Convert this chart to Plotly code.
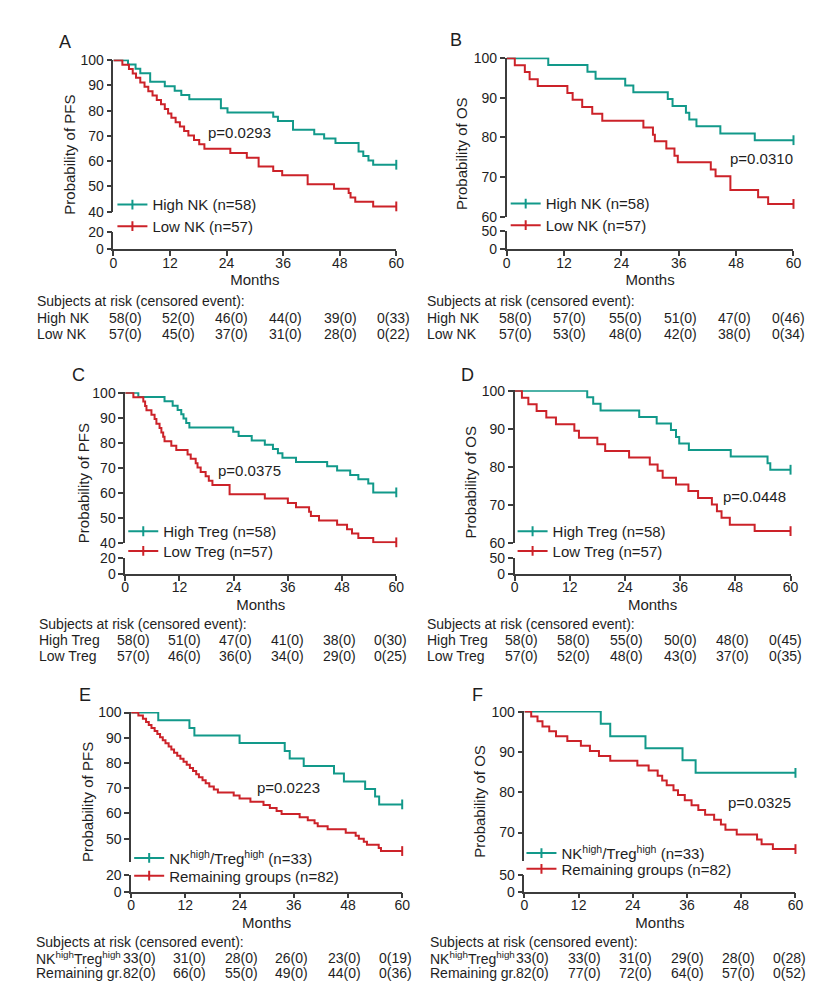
import plotly.graph_objects as go

W, H = 835, 1003
GREEN = '#12998a'
RED = '#cc2229'
AXIS = '#3c3c3c'
TXT = '#1e1e1e'
FONT = 'Liberation Sans, Arial, sans-serif'

MONTH_TICKS = [0, 12, 24, 36, 48, 60]

# ---------------- data ----------------
# A: PFS by NK
A_high_t = [0, 3.1, 4.7, 5.7, 7.8, 10.9, 13.0, 14.4, 16.1, 22.8, 24.2, 33.9, 34.9, 38.1, 42.6, 44.7, 47.1, 52.0, 53.0, 54.1, 55.1, 60]
A_high_s = [100, 98.3, 96.6, 94.8, 91.4, 89.7, 87.9, 86.2, 84.5, 81.0, 79.3, 77.6, 75.9, 72.4, 70.7, 69.0, 67.2, 63.8, 62.1, 60.3, 58.6, 58.6]
A_low_t = [0, 1.9, 3.3, 4.1, 4.8, 5.7, 6.6, 7.4, 8.3, 9.2, 10.1, 10.9, 11.6, 12.3, 13.2, 14.1, 15.0, 15.9, 17.1, 18.2, 19.3,
           24.8, 28.3, 30.8, 33.9, 35.8, 41.2, 46.8, 49.9, 50.3, 51.3, 55.1, 60]
A_low_s = [100, 98.2, 96.5, 94.7, 93.0, 91.2, 89.5, 87.7, 86.0, 84.2, 82.5, 80.7, 78.9, 77.2, 75.4, 73.7, 71.9, 70.2, 68.4, 66.7, 64.9,
           63.2, 61.4, 57.9, 56.1, 54.4, 50.9, 49.1, 47.4, 45.6, 43.9, 42.1, 42.1]

# B: OS by NK
B_high_t = [0, 8.7, 16.9, 18.6, 24.8, 26.5, 33.7, 34.7, 37.5, 38.2, 39.7, 44.7, 51.9, 60]
B_high_s = [100, 98.3, 96.6, 94.8, 93.1, 91.4, 89.7, 87.9, 86.2, 84.5, 82.8, 81.0, 79.3, 79.3]
B_low_t = [0, 1.7, 3.8, 4.8, 6.5, 12.7, 13.8, 15.8, 17.9, 20.0, 28.6, 30.6, 31.0, 33.4, 35.1, 35.8, 42.7, 43.7, 46.8, 52.6, 54.7, 60]
B_low_s = [100, 98.2, 96.5, 94.7, 93.0, 91.2, 89.5, 87.7, 86.0, 84.2, 82.5, 80.7, 79.0, 77.2, 75.4, 73.7, 71.9, 70.2, 66.7, 64.9, 63.2, 63.2]

# C: PFS by Treg
C_high_t = [0, 2.9, 8.7, 10.5, 11.6, 12.4, 12.9, 13.5, 14.2, 23.9, 25.1, 28.0, 30.9, 32.7, 33.8, 34.8, 37.8, 44.7, 46.9, 49.8, 51.6, 53.8, 54.9, 60]
C_high_s = [100, 98.3, 96.6, 94.8, 93.1, 91.4, 89.7, 87.9, 86.2, 84.5, 82.8, 81.0, 79.3, 77.6, 75.9, 74.1, 72.4, 70.7, 69.0, 67.2, 65.5, 63.8, 60.3, 60.3]
C_low_t = [0, 1.8, 4.0, 4.4, 4.7, 5.8, 6.5, 6.9, 7.6, 8.0, 8.4, 8.7, 10.2, 11.3, 13.8, 14.5, 15.6, 16.0, 16.7, 17.8, 18.5, 19.3,
           23.1, 30.9, 36.0, 37.8, 40.7, 41.1, 42.9, 46.9, 49.1, 50.2, 51.6, 54.9, 60]
C_low_s = [100, 98.2, 96.5, 94.7, 93.0, 91.2, 89.5, 87.7, 86.0, 84.2, 82.5, 80.7, 78.9, 77.2, 75.4, 73.7, 71.9, 70.2, 68.4, 66.7, 64.9, 63.2,
           59.6, 57.9, 56.1, 54.4, 52.6, 50.9, 49.1, 47.4, 45.6, 43.9, 42.1, 40.4, 40.4]

# D: OS by Treg
D_high_t = [0, 15.8, 17.1, 18.7, 27.1, 30.9, 34.0, 35.1, 35.8, 37.9, 47.0, 55.0, 55.6, 60]
D_high_s = [100, 98.3, 96.6, 94.8, 93.1, 91.4, 89.7, 87.9, 86.2, 84.5, 82.8, 81.0, 79.3, 79.3]
D_low_t = [0, 1.6, 3.0, 4.8, 6.9, 9.0, 13.0, 14.0, 18.0, 19.7, 24.9, 29.4, 31.1, 32.2, 35.1, 37.8, 39.9, 42.9, 44.0, 45.0, 46.8, 52.2, 60]
D_low_s = [100, 98.2, 96.5, 94.7, 93.0, 91.2, 89.5, 87.7, 86.0, 84.2, 82.5, 80.7, 79.0, 77.2, 75.4, 73.7, 71.9, 70.2, 68.4, 66.7, 64.9, 63.2, 63.2]

# E: PFS NKhigh/Treghigh vs remaining
E_high_t = [0, 6.0, 12.9, 14.0, 24.0, 34.0, 35.1, 38.2, 44.9, 47.1, 51.8, 54.0, 54.9, 60]
E_high_s = [100, 97.0, 93.9, 90.9, 87.9, 84.8, 81.8, 78.8, 75.8, 72.7, 69.7, 66.7, 63.6, 63.6]
E_low_t = [0, 1.6, 2.6, 3.3, 3.9, 4.5, 5.2, 5.8, 6.4, 7.0, 7.6, 8.3, 8.9, 9.5, 10.2, 10.9, 11.6, 12.3, 13.0, 13.7, 14.4, 15.0, 15.8,
           16.5, 17.3, 18.3, 19.2, 22.7, 24.0, 26.4, 29.3, 30.7, 32.2, 33.3, 37.3, 39.1, 40.6, 41.3, 43.5, 47.5, 49.7, 50.4,
           51.5, 52.2, 54.8, 55.3, 60]
E_low_s = [100, 98.8, 97.6, 96.3, 95.1, 93.9, 92.7, 91.5, 90.2, 89.0, 87.8, 86.6, 85.4, 84.1, 82.9, 81.7, 80.5, 79.3, 78.0, 76.8,
           75.6, 74.4, 73.2, 72.0, 70.7, 69.5, 68.3, 67.1, 65.9, 64.6, 63.4, 62.2, 61.0, 59.8, 58.5, 57.3, 56.1, 54.9, 53.7,
           52.4, 51.2, 50.0, 48.8, 47.6, 46.3, 45.1, 45.1]

# F: OS NKhigh/Treghigh vs remaining
F_high_t = [0, 16.9, 19.0, 26.8, 35.0, 37.9, 60]
F_high_s = [100, 97.0, 93.9, 90.9, 87.9, 84.8, 84.8]
F_low_t = [0, 1.5, 2.9, 4.0, 5.5, 7.0, 9.5, 12.5, 14.5, 16.5, 19.0, 25.0, 27.5, 29.5, 30.5, 31.5, 33.0, 34.0, 35.5, 37.0,
           38.5, 40.0, 42.0, 43.5, 44.5, 47.0, 51.5, 52.5, 55.0, 60]
F_low_s = [100, 98.8, 97.6, 96.3, 95.1, 93.9, 92.7, 91.5, 90.2, 89.0, 87.8, 86.6, 85.4, 84.1, 82.9, 81.7, 80.5, 79.3, 78.0,
           76.8, 75.6, 74.4, 73.2, 72.0, 70.7, 69.5, 68.3, 67.1, 65.9, 65.9]

# legends / labels
A_names = ['High NK (n=58)', 'Low NK (n=57)']
B_names = ['High NK (n=58)', 'Low NK (n=57)']
C_names = ['High Treg (n=58)', 'Low Treg (n=57)']
D_names = ['High Treg (n=58)', 'Low Treg (n=57)']
E_names = ['NK<sup>high</sup>/Treg<sup>high</sup> (n=33)', 'Remaining groups (n=82)']
F_names = ['NK<sup>high</sup>/Treg<sup>high</sup> (n=33)', 'Remaining groups (n=82)']

P_VALUES = ['p=0.0293', 'p=0.0310', 'p=0.0375', 'p=0.0448', 'p=0.0223', 'p=0.0325']
Y_TITLES = ['Probability of PFS', 'Probability of OS'] * 3
LETTERS = ['A', 'B', 'C', 'D', 'E', 'F']

RISK_HEADER = 'Subjects at risk (censored event):'
A_rows = ['High NK', 'Low NK']
A_risk = [['58(0)', '52(0)', '46(0)', '44(0)', '39(0)', '0(33)'],
          ['57(0)', '45(0)', '37(0)', '31(0)', '28(0)', '0(22)']]
B_rows = ['High NK', 'Low NK']
B_risk = [['58(0)', '57(0)', '55(0)', '51(0)', '47(0)', '0(46)'],
          ['57(0)', '53(0)', '48(0)', '42(0)', '38(0)', '0(34)']]
C_rows = ['High Treg', 'Low Treg']
C_risk = [['58(0)', '51(0)', '47(0)', '41(0)', '38(0)', '0(30)'],
          ['57(0)', '46(0)', '36(0)', '34(0)', '29(0)', '0(25)']]
D_rows = ['High Treg', 'Low Treg']
D_risk = [['58(0)', '58(0)', '55(0)', '50(0)', '48(0)', '0(45)'],
          ['57(0)', '52(0)', '48(0)', '43(0)', '37(0)', '0(35)']]
E_rows = ['NK<sup>high</sup>Treg<sup>high</sup>', 'Remaining gr.']
E_risk = [['33(0)', '31(0)', '28(0)', '26(0)', '23(0)', '0(19)'],
          ['82(0)', '66(0)', '55(0)', '49(0)', '44(0)', '0(36)']]
F_rows = ['NK<sup>high</sup>Treg<sup>high</sup>', 'Remaining gr.']
F_risk = [['33(0)', '33(0)', '31(0)', '29(0)', '28(0)', '0(28)'],
          ['82(0)', '77(0)', '72(0)', '64(0)', '57(0)', '0(52)']]

# ---------------- layout geometry (pixels) ----------------
geo = [
    dict(x=(111, 398), up=(53, 207), lo=(228, 245), ymin=40, uticks=[40, 50, 60, 70, 80, 90, 100], lmax=20,
         letter=(62, 35), p=(239, 127), ytit_x=67, leg_x=151, leg_y=(200, 222),
         tab=dict(lx=31, hy=298, ry=(315, 331), cols=[123, 177, 231, 286, 341, 395])),
    dict(x=(510, 801), up=(51, 212), lo=(227, 245), ymin=60, uticks=[60, 70, 80, 90, 100], lmax=50,
         letter=(459, 33), p=(769, 153), ytit_x=464, leg_x=550, leg_y=(199, 221),
         tab=dict(lx=427, hy=298, ry=(315, 331), cols=[519, 574, 631, 686, 741, 796])),
    dict(x=(123, 398), up=(391, 544), lo=(559, 575), ymin=40, uticks=[40, 50, 60, 70, 80, 90, 100], lmax=20,
         letter=(76, 373), p=(249, 470), ytit_x=80, leg_x=162, leg_y=(532, 552),
         tab=dict(lx=33, hy=626, ry=(642, 658), cols=[131, 183, 235, 288, 340, 392])),
    dict(x=(518, 798), up=(389, 544), lo=(559, 575), ymin=60, uticks=[60, 70, 80, 90, 100], lmax=50,
         letter=(470, 373), p=(761, 496), ytit_x=473, leg_x=557, leg_y=(532, 552),
         tab=dict(lx=427, hy=626, ry=(642, 658), cols=[525, 578, 632, 686, 739, 793])),
    dict(x=(129, 404), up=(716, 868), lo=(881, 898), ymin=40.7, uticks=[50, 60, 70, 80, 90, 100], lmax=20,
         letter=(82, 698), p=(289, 792), ytit_x=84, leg_x=168, leg_y=(864, 882),
         tab=dict(lx=30, hy=949, ry=(965, 981), cols=[137, 188, 241, 292, 345, 397])),
    dict(x=(528, 803), up=(715, 867), lo=(881, 898), ymin=62.9, uticks=[70, 80, 90, 100], lmax=50,
         letter=(480, 698), p=(767, 807), ytit_x=483, leg_x=566, leg_y=(859, 875),
         tab=dict(lx=430, hy=949, ry=(965, 981), cols=[536, 589, 641, 693, 745, 797])),
]

curves = [
    (A_high_t, A_high_s, A_low_t, A_low_s, A_names, A_rows, A_risk),
    (B_high_t, B_high_s, B_low_t, B_low_s, B_names, B_rows, B_risk),
    (C_high_t, C_high_s, C_low_t, C_low_s, C_names, C_rows, C_risk),
    (D_high_t, D_high_s, D_low_t, D_low_s, D_names, D_rows, D_risk),
    (E_high_t, E_high_s, E_low_t, E_low_s, E_names, E_rows, E_risk),
    (F_high_t, F_high_s, F_low_t, F_low_s, F_names, F_rows, F_risk),
]


def px(x):
    return x / W


def py(y):
    return 1 - y / H


fig = go.Figure()
layout = dict(
    width=W, height=H, margin=dict(l=0, r=0, t=0, b=0),
    paper_bgcolor='white', plot_bgcolor='rgba(0,0,0,0)',
    font=dict(family=FONT, size=14, color=TXT),
    showlegend=True,
)
annotations = []

axis_common = dict(showline=True, linecolor=AXIS, linewidth=1.5, ticks='outside', ticklen=5, tickwidth=1.5,
                   tickcolor=AXIS, showgrid=False, zeroline=False, tickfont=dict(family=FONT, size=14, color=TXT),
                   fixedrange=True)

TABLE_FONT = dict(family=FONT, size=14, color=TXT)

leg_idx = 0
for i, (g, c) in enumerate(zip(geo, curves)):
    ht, hs, lt, ls, names, rows, risk = c
    xa = 'x%d' % (i + 1)
    yu = 'y%d' % (2 * i + 1)
    yl = 'y%d' % (2 * i + 2)
    xkey = 'xaxis%d' % (i + 1)
    yukey = 'yaxis%d' % (2 * i + 1)
    ylkey = 'yaxis%d' % (2 * i + 2)

    unit = (g['up'][1] - g['up'][0]) / (100 - g['ymin'])
    top_extra = 0.6 / unit
    layout[xkey] = dict(axis_common, domain=[px(g['x'][0]), px(g['x'][1])], anchor=yl, range=[0, 60],
                        tickvals=MONTH_TICKS, ticklabelstandoff=-5,
                        title=dict(text='Months', standoff=5, font=dict(family=FONT, size=15, color=TXT)))
    layout[yukey] = dict(axis_common, domain=[py(g['up'][1]), py(g['up'][0] - 0.6)], anchor=xa,
                         range=[g['ymin'], 100 + top_extra], tickvals=g['uticks'])
    layout[ylkey] = dict(axis_common, domain=[py(g['lo'][1]), py(g['lo'][0])], anchor=xa,
                         range=[0, g['lmax']], tickvals=[0, g['lmax']])

    # empty trace so the lower axis segment is drawn
    fig.add_trace(go.Scatter(x=[None], y=[None], xaxis=xa, yaxis=yl, showlegend=False, hoverinfo='skip'))

    for t, s, col, name, ly in ((ht, hs, GREEN, names[0], g['leg_y'][0]), (lt, ls, RED, names[1], g['leg_y'][1])):
        fig.add_trace(go.Scatter(x=t, y=s, mode='lines', line=dict(color=col, width=2, shape='hv'),
                                 xaxis=xa, yaxis=yu, showlegend=False, hoverinfo='skip'))
        leg_idx += 1
        lkey = 'legend' if leg_idx == 1 else 'legend%d' % leg_idx
        fig.add_trace(go.Scatter(x=[t[-1]], y=[s[-1]], mode='lines+markers', name=name,
                                 line=dict(color=col, width=2),
                                 marker=dict(symbol='line-ns', size=7, color=col, line=dict(color=col, width=2)),
                                 cliponaxis=False, xaxis=xa, yaxis=yu, legend=lkey, hoverinfo='skip'))
        layout[lkey] = dict(x=px(g['leg_x'] - 41), y=py(ly), xanchor='left', yanchor='middle',
                            bgcolor='rgba(0,0,0,0)', borderwidth=0, itemwidth=30,
                            font=dict(family=FONT, size=15, color=TXT), tracegroupgap=0)

    annotations.append(dict(text=LETTERS[i], x=px(g['letter'][0]), y=py(g['letter'][1]), xref='paper', yref='paper',
                            showarrow=False, xanchor='center', yanchor='middle',
                            font=dict(family=FONT, size=18, color=TXT)))
    annotations.append(dict(text=P_VALUES[i], x=px(g['p'][0]), y=py(g['p'][1]), xref='paper', yref='paper',
                            showarrow=False, xanchor='center', yanchor='middle',
                            font=dict(family=FONT, size=15, color=TXT)))
    ymid = (g['up'][0] + g['lo'][1]) / 2
    annotations.append(dict(text=Y_TITLES[i], x=px(g['ytit_x']), y=py(ymid), xref='paper', yref='paper',
                            showarrow=False, textangle=-90, xanchor='center', yanchor='middle',
                            font=dict(family=FONT, size=15, color=TXT)))
    tb = g['tab']
    annotations.append(dict(text=RISK_HEADER, x=px(tb['lx']), y=py(tb['hy']), xref='paper', yref='paper',
                            showarrow=False, xanchor='left', yanchor='middle', font=TABLE_FONT))
    for r in range(2):
        annotations.append(dict(text=rows[r], x=px(tb['lx']), y=py(tb['ry'][r]), xref='paper', yref='paper',
                                showarrow=False, xanchor='left', yanchor='middle', font=TABLE_FONT))
        for k, val in enumerate(risk[r]):
            annotations.append(dict(text=val, x=px(tb['cols'][k]), y=py(tb['ry'][r]), xref='paper', yref='paper',
                                    showarrow=False, xanchor='center', yanchor='middle', font=TABLE_FONT))

layout['annotations'] = annotations
fig.update_layout(**layout)
fig.write_html('out.html')
